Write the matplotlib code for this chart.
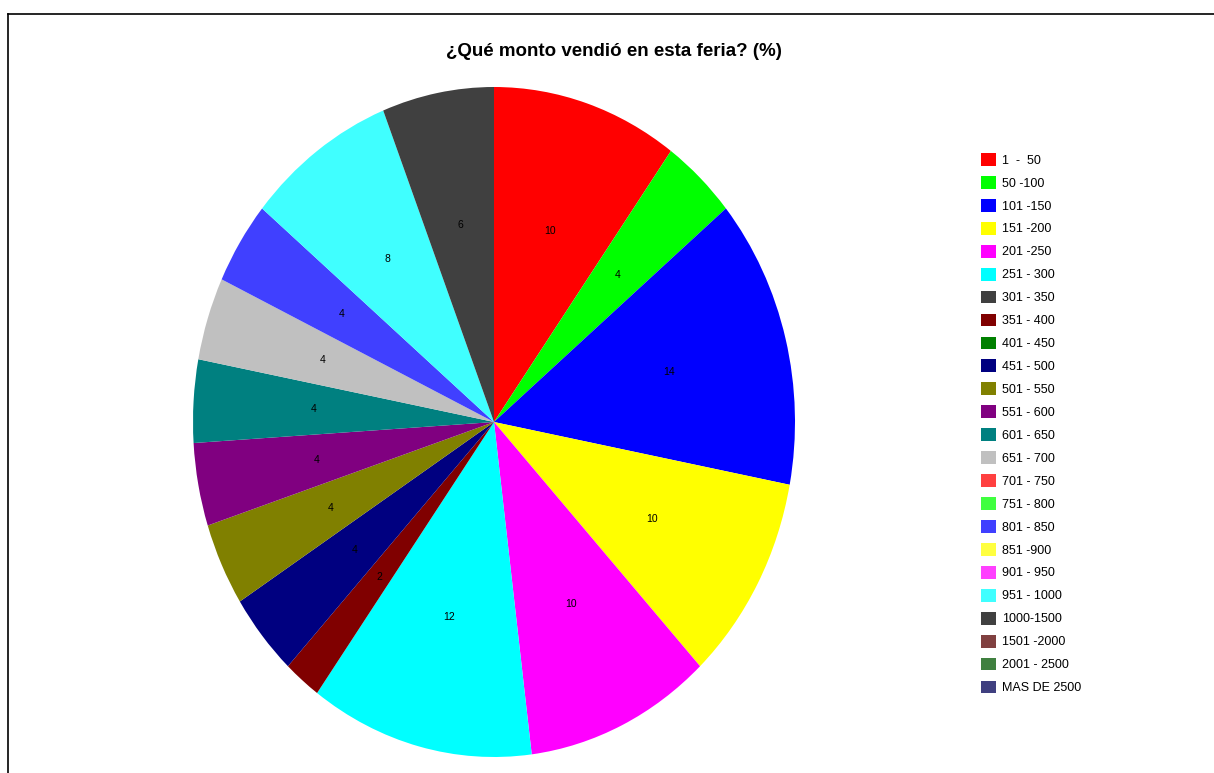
import matplotlib
matplotlib.use('Agg')
import matplotlib.pyplot as plt
from matplotlib.lines import Line2D

plt.rcParams['font.family'] = ['Liberation Sans', 'DejaVu Sans']

rangos = ['1  -  50', '50 -100', '101 -150', '151 -200', '201 -250', '251 - 300',
          '301 - 350', '351 - 400', '401 - 450', '451 - 500', '501 - 550', '551 - 600',
          '601 - 650', '651 - 700', '701 - 750', '751 - 800', '801 - 850', '851 -900',
          '901 - 950', '951 - 1000', '1000-1500', '1501 -2000', '2001 - 2500', 'MAS DE 2500']
porcentaje = [10, 4, 14, 10, 10, 12,
              0, 2, 0, 4, 4, 4,
              4, 4, 0, 0, 4, 0,
              0, 8, 6, 0, 0, 0]
colores = ['#FF0000', '#00FF00', '#0000FF', '#FFFF00', '#FF00FF', '#00FFFF',
           '#404040', '#800000', '#008000', '#000080', '#808000', '#800080',
           '#008080', '#C0C0C0', '#FF4040', '#40FF40', '#4040FF', '#FFFF40',
           '#FF40FF', '#40FFFF', '#404040', '#804040', '#408040', '#404080']

W, H = 1214, 773
fig = plt.figure(figsize=(W / 100, H / 100), dpi=100)

# pie stretched to the box it sits in (slightly taller than wide)
ax = fig.add_axes([193 / W, (H - 757) / H, 602 / W, 670 / H])
wedges, textos, pcts = ax.pie(
    porcentaje, colors=colores, startangle=90, counterclock=False,
    autopct=lambda p: '%d' % round(p) if p > 0.5 else '', pctdistance=0.6,
    textprops={'fontsize': 7.5, 'color': 'black'})
ax.set_aspect('auto')
ax.set_xlim(-1, 1)
ax.set_ylim(-1, 1)
ax.axis('off')

fig.text(614 / W, 1 - 52 / H, '¿Qué monto vendió en esta feria? (%)',
         ha='center', va='center', fontsize=13.5, fontweight='bold')

fig.legend(wedges, rangos, loc='upper left', bbox_to_anchor=(981 / W, 1 - 153 / H),
           frameon=False, fontsize=9, handlelength=1.2, handleheight=1.2,
           handletextpad=0.45, labelspacing=0.745, borderpad=0, borderaxespad=0)

# frame lines along the top and left edge
fig.add_artist(Line2D([8 / W, 1], [1 - 14 / H, 1 - 14 / H], transform=fig.transFigure,
                      color='black', lw=1.2))
fig.add_artist(Line2D([8 / W, 8 / W], [0, 1 - 14 / H], transform=fig.transFigure,
                      color='black', lw=1.2))

fig.savefig('out.png', dpi=100, facecolor='white')
